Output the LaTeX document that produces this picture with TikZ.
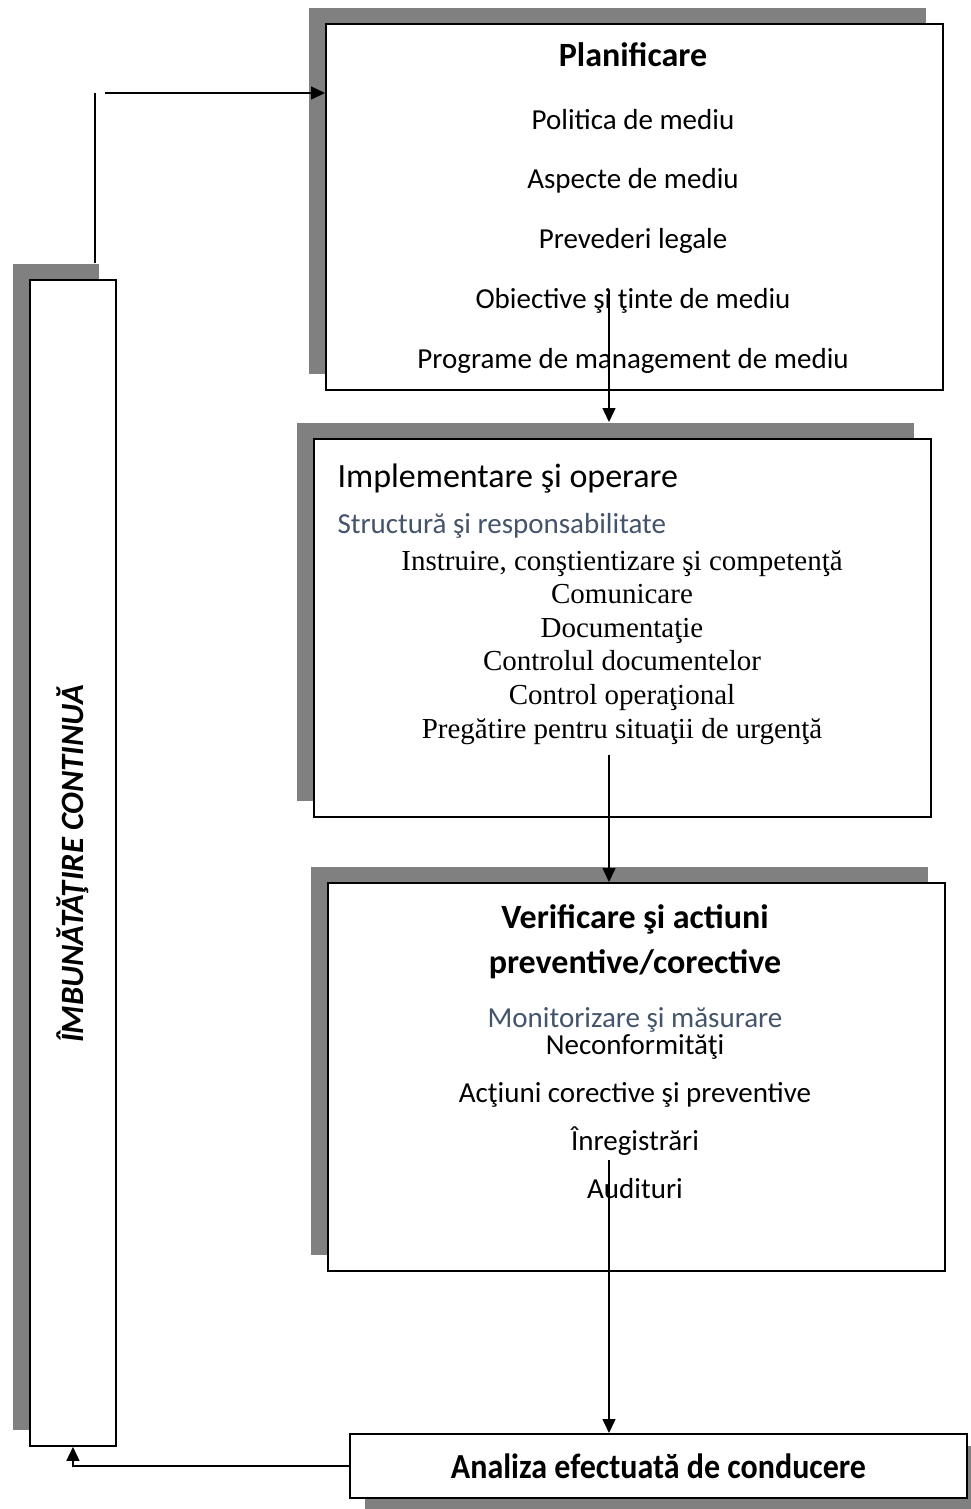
\documentclass[tikz,border=0pt]{standalone}
\usepackage{fontspec}
\setmainfont{Carlito}
\newfontfamily\serifitems{Liberation Serif}
\usetikzlibrary{arrows.meta, shadows}
\definecolor{shadowgray}{RGB}{128,128,128}
\definecolor{headblue}{RGB}{68,84,106}

\begin{document}
\begin{tikzpicture}[x=1pt, y=-1pt,
  box/.style={draw, line width=1.9pt, fill=white, anchor=north west, inner sep=0pt},
  backshadow/.style={general shadow={fill=shadowgray, shadow xshift=-17pt, shadow yshift=16pt}},
  frontshadow/.style={general shadow={fill=shadowgray, shadow xshift=15pt, shadow yshift=-12pt}},
  flow/.style={line width=1.5pt, -{Triangle[length=14pt, width=13pt]}},
  title/.style={font=\fontsize{34}{40}\selectfont\bfseries, anchor=base},
  entry/.style={font=\fontsize{29}{34}\selectfont, anchor=base}]

\useasboundingbox ( 0, 0 ) rectangle ( 971, 1509 );

% Boxes
\node[box, backshadow, minimum width=86pt, minimum height=1166pt] (lbox) at ( 29, 279 ) {};
\node[box, backshadow, minimum width=617pt, minimum height=366pt] (plan) at ( 325, 23 ) {};
\node[box, backshadow, minimum width=617pt, minimum height=378pt] (impl) at ( 313, 438 ) {};
\node[box, backshadow, minimum width=617pt, minimum height=388pt] (verif) at ( 327, 882 ) {};
\node[box, frontshadow, minimum width=617pt, minimum height=64pt] (anal) at ( 349, 1433 ) {};

% Continuous improvement
\node[font=\fontsize{32.5}{38}\selectfont\bfseries\itshape, rotate=90, anchor=base] (improve) at ( 83, 864 ) {ÎMBUNĂTĂŢIRE CONTINUĂ};

% Planning
\node[title] (plantitle) at ( 633, 67 ) {Planificare};
\foreach \txt [count=\i] in {Politica de mediu, Aspecte de mediu, Prevederi legale, Obiective şi ţinte de mediu, Programe de management de mediu}
  \node[entry] (pl\i) at ( 633, 69.25 + 59.75*\i ) {\txt};

% Implementation
\node[font=\fontsize{34}{40}\selectfont, anchor=base west] (impltitle) at ( 334, 487 ) {Implementare şi operare};
\node[entry, anchor=base west, text=headblue] (implsub) at ( 334, 533 ) {Structură şi responsabilitate};
\foreach \txt [count=\i] in {{Instruire, conştientizare şi competenţă}, Comunicare, Documentaţie, Controlul documentelor, Control operaţional, Pregătire pentru situaţii de urgenţă}
  \node[entry, font=\serifitems\fontsize{29}{34}\selectfont] (im\i) at ( 622, 536.4 + 33.6*\i ) {\txt};

% Checking
\node[title] (ver1) at ( 635, 928 ) {Verificare şi actiuni};
\node[title] (ver2) at ( 635, 973 ) {preventive/corective};
\node[entry, text=headblue] (versub) at ( 635, 1027 ) {Monitorizare şi măsurare};
\foreach \txt [count=\i] in {Neconformităţi, Acţiuni corective şi preventive, Înregistrări, Audituri}
  \node[entry] (ve\i) at ( 635, 1006.5 + 48*\i ) {\txt};

% Review
\node[font=\fontsize{32}{38}\selectfont\bfseries] (analtext) at (anal.center) {\scalebox{1}[1.1]{Analiza efectuată de conducere}};

% Arrows
\coordinate (lt) at ( 95, 263 );
\coordinate (up) at ( 95, 93 );
\coordinate (st) at ( 105, 93 );
\draw[line width=1.5pt] (lt) -- (up);
\draw[flow] (st) -- (st -| plan.west);

\coordinate (a1) at ( 609, 290 );
\coordinate (a2) at ( 609, 755 );
\coordinate (a3) at ( 609, 1160 );
\draw[flow, shorten >=16pt] (a1) -- (a1 |- impl.north);
\draw[flow] (a2) -- (a2 |- verif.north);
\draw[flow] (a3) -- (a3 |- anal.north);
\draw[flow] (anal.west) -| (lbox.south);

\end{tikzpicture}
\end{document}
